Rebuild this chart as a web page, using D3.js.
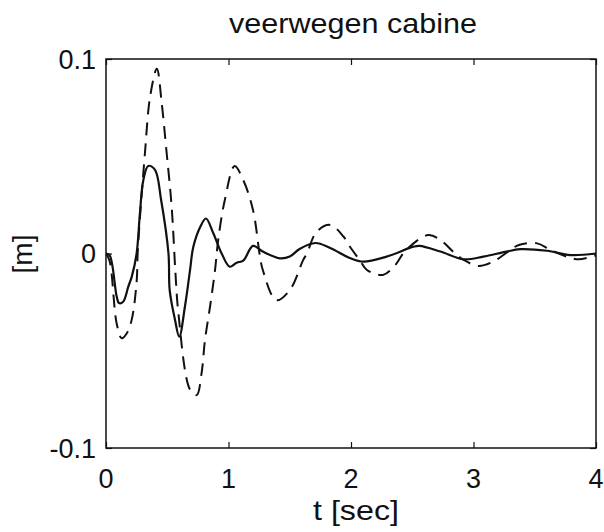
<!DOCTYPE html>
<html>
<head>
<meta charset="utf-8">
<script src="https://cdn.jsdelivr.net/npm/d3@7"></script>
<style>
  html, body { margin: 0; padding: 0; background: #fff; }
  svg { display: block; }
  text { font-family: "Liberation Sans", Arial, Helvetica, sans-serif; fill: #111; }
</style>
</head>
<body>
<svg id="chart" width="604" height="532"></svg>
<script>
// ---- data ----
const solidT = [0, 0.03, 0.087, 0.106, 0.14, 0.182, 0.21, 0.25, 0.277, 0.305, 0.345, 0.40, 0.45, 0.51, 0.52, 0.563, 0.598, 0.645, 0.686, 0.713, 0.77, 0.816, 0.876, 0.944, 1.01, 1.067, 1.12, 1.2, 1.28, 1.42, 1.5, 1.58, 1.71, 1.83, 1.99, 2.10, 2.29, 2.51, 2.56, 2.73, 2.92, 3.08, 3.27, 3.38, 3.60, 3.79, 4.0];
const solidV = [0, -0.001, -0.022, -0.0255, -0.0248, -0.017, -0.012, 0.0, 0.0208, 0.0378, 0.045, 0.043, 0.0275, 0.0, -0.019, -0.034, -0.0428, -0.027, -0.0085, 0.0035, 0.0138, 0.018, 0.0104, 0.0, -0.0068, -0.0047, -0.0037, 0.0039, 0.001, -0.0025, -0.0016, 0.0023, 0.0054, 0.0028, -0.0023, -0.0042, -0.0016, 0.0035, 0.0039, 0.001, -0.003, -0.0016, 0.001, 0.0022, 0.0014, -0.0008, 0.0];

const dashT = [0, 0.03, 0.087, 0.128, 0.17, 0.21, 0.25, 0.26, 0.318, 0.36, 0.415, 0.455, 0.49, 0.536, 0.567, 0.59, 0.686, 0.74, 0.78, 0.808, 0.85, 0.89, 0.916, 0.97, 1.05, 1.12, 1.2, 1.257, 1.28, 1.39, 1.50, 1.61, 1.64, 1.72, 1.83, 1.94, 2.0, 2.07, 2.13, 2.26, 2.35, 2.45, 2.63, 2.73, 2.85, 2.92, 3.04, 3.16, 3.27, 3.37, 3.52, 3.62, 3.76, 3.86, 4.0];
const dashV = [0, -0.004, -0.036, -0.0436, -0.041, -0.034, -0.0145, 0.002, 0.0517, 0.0806, 0.095, 0.0772, 0.055, 0.024, -0.010, -0.030, -0.070, -0.0728, -0.0616, -0.0445, -0.027, -0.0085, 0.007, 0.0275, 0.045, 0.0378, 0.0224, -0.0016, -0.0085, -0.024, -0.0188, -0.0033, 0.0, 0.0112, 0.0147, 0.0086, 0.0027, -0.0033, -0.0085, -0.011, -0.0068, 0.0018, 0.0095, 0.0069, 0.0, -0.0033, -0.0064, -0.0042, 0.0004, 0.0044, 0.0052, 0.0022, -0.0016, -0.003, -0.001];

const xTicks = [0, 1, 2, 3, 4];
const yTicks = [-0.1, 0, 0.1];
const yTickLabels = ["-0.1", "0", "0.1"];
const titleText = "veerwegen cabine";
const xLabel = "t [sec]";
const yLabel = "[m]";

// ---- layout ----
const L = 106, R = 596, T = 59, B = 448;
const svg = d3.select("#chart");
const x = d3.scaleLinear().domain([0, 4]).range([L, R]);
const y = d3.scaleLinear().domain([-0.1, 0.1]).range([B, T]);

const ink = "#111";

// frame
svg.append("rect").attr("x", L).attr("y", T).attr("width", R - L).attr("height", B - T)
  .attr("fill", "none").attr("stroke", ink).attr("stroke-width", 1.5);

// axes (inward ticks)
const gB = svg.append("g").attr("transform", `translate(0,${B})`)
  .call(d3.axisTop(x).tickValues(xTicks).tickSize(6).tickFormat(""));
const gT = svg.append("g").attr("transform", `translate(0,${T})`)
  .call(d3.axisBottom(x).tickValues(xTicks).tickSize(6).tickFormat(""));
const gL = svg.append("g").attr("transform", `translate(${L},0)`)
  .call(d3.axisRight(y).tickValues(yTicks).tickSize(6).tickFormat(""));
const gR = svg.append("g").attr("transform", `translate(${R},0)`)
  .call(d3.axisLeft(y).tickValues(yTicks).tickSize(6).tickFormat(""));
[gB, gT, gL, gR].forEach(g => {
  g.select(".domain").remove();
  g.selectAll("line").attr("stroke", ink).attr("stroke-width", 1.2);
});

// tick labels
svg.append("g").selectAll("text").data(xTicks).join("text")
  .attr("x", d => x(d)).attr("y", 488)
  .attr("text-anchor", "middle").attr("font-size", 27)
  .text(d => d);
svg.append("g").selectAll("text").data(yTicks).join("text")
  .attr("x", 96).attr("y", d => y(d)).attr("dy", "0.36em")
  .attr("text-anchor", "end").attr("font-size", 27)
  .text((d, i) => yTickLabels[i]);

// title and axis labels
svg.append("text").attr("x", (L + R) / 2 + 2).attr("y", 33)
  .attr("text-anchor", "middle").attr("font-size", 28)
  .attr("textLength", 248).attr("lengthAdjust", "spacingAndGlyphs").text(titleText);
svg.append("text").attr("x", 356).attr("y", 520)
  .attr("text-anchor", "middle").attr("font-size", 28)
  .attr("textLength", 86).attr("lengthAdjust", "spacingAndGlyphs").text(xLabel);
svg.append("text").attr("transform", "translate(32,254) rotate(-90)")
  .attr("text-anchor", "middle").attr("font-size", 28).text(yLabel);

// curves
const line = d3.line().x(d => x(d[0])).y(d => y(d[1])).curve(d3.curveCatmullRom.alpha(0.5));
svg.append("clipPath").attr("id", "clip").append("rect")
  .attr("x", L).attr("y", T).attr("width", R - L).attr("height", B - T);

svg.append("path").datum(dashT.map((t, i) => [t, dashV[i]]))
  .attr("clip-path", "url(#clip)")
  .attr("d", line).attr("fill", "none").attr("stroke", ink)
  .attr("stroke-width", 2).attr("stroke-dasharray", "13,8");
svg.append("path").datum(solidT.map((t, i) => [t, solidV[i]]))
  .attr("clip-path", "url(#clip)")
  .attr("d", line).attr("fill", "none").attr("stroke", ink)
  .attr("stroke-width", 2.2);
</script>
</body>
</html>
